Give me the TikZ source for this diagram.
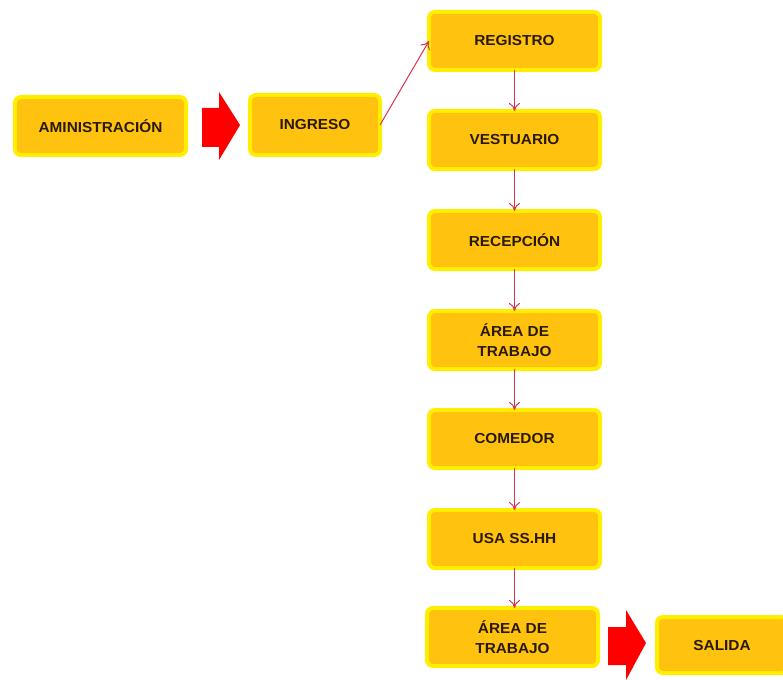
\documentclass[tikz,border=0pt]{standalone}
\usepackage{fontspec}
\setmainfont{Liberation Sans}[FakeStretch=1.06]
\usetikzlibrary{arrows.meta}
\definecolor{boxfill}{HTML}{FFC20E}
\definecolor{boxedge}{HTML}{FFEE00}
\definecolor{linkred}{HTML}{D8344C}
\definecolor{txt}{HTML}{2A1A05}
\tikzset{
  stepbox/.style={draw=boxedge, line width=4pt, fill=boxfill, rounded corners=6pt,
    minimum width=171pt, minimum height=58pt, inner sep=2pt, outer sep=0pt,
    align=center, text=txt, font=\bfseries\fontsize{14.5}{20}\selectfont},
  smallbox/.style={stepbox, minimum width=130pt, minimum height=60pt},
  link/.style={draw=linkred, line width=1pt, -{To[length=8pt,width=11pt]}},
  bigarrow/.style={fill=red, draw=none}
}
\begin{document}
\begin{tikzpicture}[x=1pt,y=-1pt]
\useasboundingbox (0,0) rectangle (783,679);
\clip (0,0) rectangle (783,679);
\node[stepbox] (amin) at (100.5,126) {AMINISTRACIÓN};
\node[smallbox] (ingreso) at (315,125) {INGRESO};
\node[stepbox] (registro) at (514.5,41) {REGISTRO};
\node[stepbox] (vestuario) at (514.5,140) {VESTUARIO};
\node[stepbox] (recepcion) at (514.5,240) {RECEPCIÓN};
\node[stepbox] (area1) at (514.5,340) {ÁREA DE\\TRABAJO};
\node[stepbox] (comedor) at (514.5,439) {COMEDOR};
\node[stepbox] (usa) at (514.5,539) {USA SS.HH};
\node[stepbox] (area2) at (512.5,637) {ÁREA DE\\TRABAJO};
\node[smallbox, minimum height=56pt] (salida) at (722,645) {SALIDA};
% big red arrows
\path[bigarrow] (202,108) -- (219,108) -- (219,92) -- (240,125) -- (219,160) -- (219,147) -- (202,147) -- cycle;
\path[bigarrow] (608,627) -- (626,627) -- (626,610) -- (646,643) -- (626,680) -- (626,665) -- (608,665) -- cycle;
% connectors
\draw[link] (ingreso.east) -- (registro.west);
\draw[link] (registro.south) -- (vestuario.north);
\draw[link] (vestuario.south) -- (recepcion.north);
\draw[link] (recepcion.south) -- (area1.north);
\draw[link] (area1.south) -- (comedor.north);
\draw[link] (comedor.south) -- (usa.north);
\draw[link] (usa.south) -- (usa.south |- area2.north);
\end{tikzpicture}
\end{document}
